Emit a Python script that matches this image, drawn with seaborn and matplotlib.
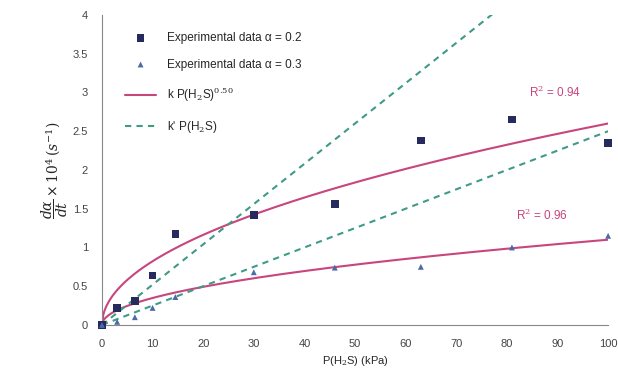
import matplotlib
matplotlib.use('Agg')
import matplotlib.pyplot as plt
import numpy as np
import pandas as pd
import seaborn as sns

# pressure of H2S (kPa)
pressure = [0, 3, 6.5, 10, 14.5, 30, 46, 63, 81, 100]
# experimental rates x 10^4 (s^-1)
rate_a02 = [0.0, 0.22, 0.31, 0.64, 1.17, 1.42, 1.56, 2.38, 2.65, 2.35]
rate_a03 = [0.0, 0.04, 0.10, 0.22, 0.36, 0.68, 0.74, 0.75, 1.00, 1.15]

# fitted parameters
k_a02, k_a03 = 0.26, 0.11
exponent = 0.5
kp_a02, kp_a03 = 0.052, 0.025
r2_labels = ['R$^2$ = 0.94', 'R$^2$ = 0.96']

sns.set_style('white')
plt.rcParams['font.family'] = ['Liberation Sans', 'DejaVu Sans']
plt.rcParams['font.size'] = 8
plt.rcParams['mathtext.fontset'] = 'dejavuserif'

navy = '#262a5c'
blue = '#4b6aa8'
pink = '#c8457e'
teal = '#3f9a88'

fig = plt.figure(figsize=(6.18, 3.85), dpi=100)
ax = fig.add_axes([0.165, 0.156, 0.819, 0.805])

p = np.linspace(0, 100, 400)
fits = pd.DataFrame({
    'p': p,
    'pow02': k_a02 * p ** exponent,
    'pow03': k_a03 * p ** exponent,
    'lin02': kp_a02 * p,
    'lin03': kp_a03 * p,
})

sns.lineplot(data=fits, x='p', y='pow02', color=pink, lw=1.5, ax=ax,
             label='k P(H$_2$S)$^{0.50}$')
sns.lineplot(data=fits, x='p', y='pow03', color=pink, lw=1.5, ax=ax)
sns.lineplot(data=fits, x='p', y='lin02', color=teal, lw=1.5, ax=ax,
             linestyle=(0, (3, 2.5)), label="k' P(H$_2$S)")
sns.lineplot(data=fits, x='p', y='lin03', color=teal, lw=1.5, ax=ax,
             linestyle=(0, (3, 2.5)))

sns.scatterplot(x=pressure, y=rate_a02, marker='s', color=navy, s=30,
                edgecolor='none', ax=ax, zorder=5,
                label='Experimental data α = 0.2')
sns.scatterplot(x=pressure, y=rate_a03, marker='^', color=blue, s=18,
                edgecolor='none', ax=ax, zorder=5,
                label='Experimental data α = 0.3')

ax.text(89.5, 3.0, r2_labels[0], color=pink, fontsize=8.5, ha='center',
        va='center')
ax.text(87, 1.42, r2_labels[1], color=pink, fontsize=8.5, ha='center',
        va='center')

ax.set_xlim(0, 100)
ax.set_ylim(0, 4)
ax.set_xticks(range(0, 101, 10))
ax.set_yticks(np.arange(0, 4.01, 0.5))
ax.set_yticklabels(['0', '0.5', '1', '1.5', '2', '2.5', '3', '3.5', '4'])
ax.set_xlabel('P(H$_2$S) (kPa)', fontsize=8, labelpad=4)
ax.set_ylabel(r'$\dfrac{d\alpha}{dt}\times10^4\,(s^{-1})$', fontsize=10,
              labelpad=2)
ax.tick_params(axis='both', direction='out', length=3, width=0.6,
               color='#888888', labelcolor='#444444', pad=7)
for side in ['top', 'right']:
    ax.spines[side].set_visible(False)
for side in ['left', 'bottom']:
    ax.spines[side].set_color('#888888')
    ax.spines[side].set_linewidth(0.8)
ax.margins(0)
for c in ax.collections:
    c.set_clip_on(False)

handles, labels = ax.get_legend_handles_labels()
order = [2, 3, 0, 1]
ax.legend([handles[i] for i in order], [labels[i] for i in order],
          loc='upper left', bbox_to_anchor=(0.025, 0.98), frameon=False,
          fontsize=8.5, handlelength=2.6, handletextpad=0.9,
          labelspacing=1.25)

fig.savefig('out.png', dpi=100)
